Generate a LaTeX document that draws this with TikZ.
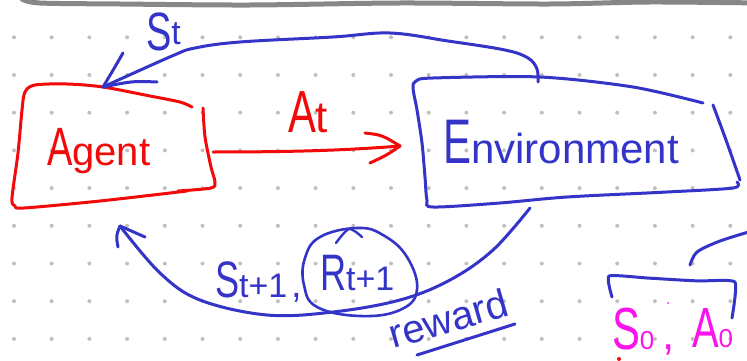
\documentclass[tikz,border=0pt]{standalone}
\usepackage{fontspec}
\setmainfont{Liberation Sans}
\definecolor{pred}{RGB}{242,10,10}
\definecolor{pblue}{RGB}{52,52,200}
\definecolor{pmag}{RGB}{250,20,235}
\definecolor{pdot}{RGB}{192,192,192}
\definecolor{pgray}{RGB}{135,135,135}
\newcommand\tallcap[1]{\scalebox{0.95}[1.35]{#1}}
\tikzset{
  pen/.style={line width=3pt,line cap=round,line join=round},
  redpen/.style={pen,draw=pred},
  bluepen/.style={pen,draw=pblue},
  hand/.style={inner sep=0pt,outer sep=0pt,font=\fontsize{#1}{#1}\selectfont},
}
\begin{document}
\begin{tikzpicture}[x=1pt,y=-1pt]
\useasboundingbox (0,0) rectangle (747,361);
\clip (0,0) rectangle (747,361);
\fill[white] (0,0) rectangle (747,361);
% dot grid
\foreach \i in {0,...,19}{
  \foreach \j in {0,...,8}{
    \fill[pdot] ({14+37.7*\i},{37.3+37.7*\j}) circle (2pt);
  }
}
% top gray line
\draw[pgray,line width=5pt,line cap=round] plot[smooth,tension=0.5] coordinates {(22,-1) (40,3) (120,4) (250,5) (400,3) (550,4) (650,2) (760,3)};

% Agent box
\draw[redpen] plot[smooth,tension=0.5] coordinates {(192,107) (180,102) (150,96) (103,87) (67,84) (35,85) (25,92) (22,110) (18,153) (12,198) (15,206) (24,208) (100,201) (187,191)};
\draw[redpen] plot[smooth,tension=0.5] coordinates {(203,108) (205,137) (211,167) (215,182) (211,188) (178,191)};
\node[hand=40,text=pred,anchor=base west] (agentlbl) at (47,165) {\tallcap{A}gent};

% Environment box
\draw[bluepen] plot[smooth,tension=0.5] coordinates {(703,103) (633,87) (540,77) (433,78) (416,81) (413,88) (417,110) (422,143) (425,177) (427,200) (433,207) (500,203) (567,197) (667,192) (733,188) (737,182)};
\draw[bluepen] plot[smooth,tension=0.5] coordinates {(713,105) (726,140) (740,180)};
\node[hand=42,text=pblue,anchor=base west] (envlbl) at (443,163) {\scalebox{1}[1.5]{E}nvironment};

% connector end points
\coordinate (envTop) at (538,82);
\coordinate (agentTop) at (103,87);
\coordinate (agentR) at (213,152);
\coordinate (envL) at (400,146);
\coordinate (envBot) at (530,208);
\coordinate (agentBot) at (120,226);

% S_t arrow (environment -> agent, top)
\draw[bluepen] plot[smooth,tension=0.6] coordinates {(envTop) (537,69) (528,58) (505,50) (448,41) (390,33) (333,37) (240,42) (195,48) (172,56) (agentTop)};
\draw[bluepen] (123,53) .. controls (112,72) .. (agentTop);
\draw[bluepen] (157,82) .. controls (133,81) .. (agentTop);
\node[hand=40,text=pblue,anchor=base west] (stlbl) at (146,51) {\tallcap{S}\raisebox{6pt}{\fontsize{34}{34}\selectfont t}};

% A_t arrow (agent -> environment)
\draw[redpen] (agentR) .. controls (300,152) and (350,150) .. (envL);
\draw[redpen] (365,133) .. controls (382,135) .. (envL);
\draw[redpen] (370,163) .. controls (387,155) .. (envL);
\node[hand=44,text=pred,anchor=base west] (atlbl) at (288,132) {\tallcap{A}t};

% S_{t+1}, R_{t+1} arrow (environment -> agent, bottom)
\draw[bluepen] plot[smooth,tension=0.6] coordinates {(envBot) (493,250) (450,280) (400,300) (333,312) (267,315) (200,300) (160,273) (agentBot)};
\draw[bluepen] (118,247) .. controls (116,236) .. (agentBot);
\draw[bluepen] (145,237) .. controls (132,231) .. (agentBot);
\node[hand=38,text=pblue,anchor=base west] (slbl) at (215,297) {\tallcap{S}{\fontsize{34}{34}\selectfont t+1}\hspace{4pt},};
\node[hand=38,text=pblue,anchor=base west] (rlbl) at (320,290) {\tallcap{R}{\fontsize{34}{34}\selectfont t+1}};
% circle round R
\draw[bluepen,line width=2.6pt] plot[smooth cycle,tension=0.7] coordinates {(357,228) (383,235) (407,257) (417,290) (400,310) (360,316) (317,307) (304,285) (305,258) (320,237)};
\draw[bluepen,line width=2.4pt] plot[smooth,tension=0.5] coordinates {(336,243) (349,229) (362,237)};
% reward
\node[hand=40,text=pblue,rotate=16,anchor=base] (rewardlbl) at (452,332) {reward};
\draw[bluepen] (417,355) -- (515,324);

% bottom right fragment
\draw[bluepen] plot[smooth,tension=0.5] coordinates {(690,265) (697,252) (720,241) (752,231)};
\draw[bluepen] plot[smooth,tension=0.3] coordinates {(612,297) (609,276) (647,278) (680,280) (700,281) (735,282) (732,318)};
\node[hand=44,text=pmag,anchor=base west] (s0lbl) at (612,349) {\tallcap{S}{\fontsize{26}{26}\selectfont 0}\hspace{8pt},};
\node[hand=42,text=pmag,anchor=base west] (a0lbl) at (692,347) {\tallcap{A}{\fontsize{26}{26}\selectfont 0}};
\fill[pred] (619,359) circle (2pt);
\fill[pmag] (668,303) circle (1pt);
\end{tikzpicture}
\end{document}
